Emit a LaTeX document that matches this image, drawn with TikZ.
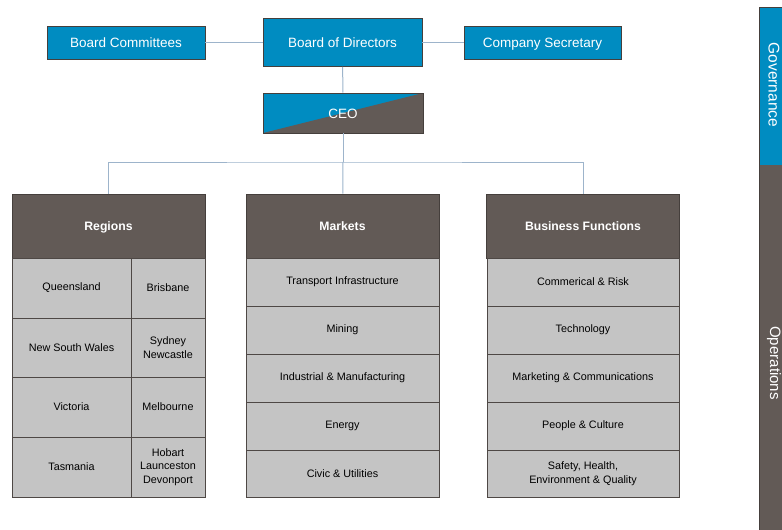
\documentclass[tikz,border=0pt]{standalone}
\usepackage{fontspec}
\setmainfont{Liberation Sans}
\usepackage{tikz}
\definecolor{govblue}{HTML}{008CC1}
\definecolor{opsgray}{HTML}{625A56}
\definecolor{cellgray}{HTML}{C4C4C4}
\definecolor{linkblue}{HTML}{9DB4CB}
\tikzstyle{topbox}=[draw=opsgray!70!black, line width=0.6pt, fill=govblue, text=white, font=\fontsize{13.5}{16}\selectfont, inner sep=0pt, text height=12pt, text depth=1.4pt]
\tikzstyle{head}=[draw=opsgray!70!black, line width=0.6pt, fill=opsgray, text=white, font=\fontsize{12.2}{14}\selectfont\bfseries, minimum width=193, minimum height=64, inner sep=0pt, text height=10.4pt, text depth=1.6pt]
\tikzstyle{cell}=[draw=opsgray!80!black, line width=0.6pt, fill=cellgray, text=black, font=\fontsize{10.8}{13.5}\selectfont, align=center, inner sep=0pt]
\tikzstyle{link}=[draw=linkblue, line width=1pt]

\begin{document}
\begin{tikzpicture}[x=1pt, y=-1pt]
		\useasboundingbox (0,0) rectangle (782,530);

		% governance
		\node [style=topbox, minimum width=158, minimum height=33] (bc) at (126, 42.5) {Board Committees};
		\node [style=topbox, minimum width=159, minimum height=48] (bod) at (342.5, 42.5) {Board of Directors};
		\node [style=topbox, minimum width=157, minimum height=33] (cs) at (542.5, 42.5) {Company Secretary};
		\node [style=topbox, minimum width=160, minimum height=40,
			path picture={\fill[opsgray] (path picture bounding box.south west) -- (path picture bounding box.north east) |- cycle;}] (ceo) at (343, 113) {CEO};

		% operations headers
		\node [style=head] (regions) at (108.5, 226) {Regions};
		\node [style=head] (markets) at (342.5, 226) {Markets};
		\node [style=head] (bizfn) at (583, 226) {Business Functions};

		% regions
		\node [style=cell, minimum width=119, minimum height=60] (qld) at (71.5, 288) {Queensland};
		\node [style=cell, minimum width=74, minimum height=60] (bne) at (168, 288) {Brisbane};
		\node [style=cell, minimum width=119, minimum height=59] (nsw) at (71.5, 347.5) {New South Wales};
		\node [style=cell, minimum width=74, minimum height=59] (syd) at (168, 347.5) {Sydney\\Newcastle};
		\node [style=cell, minimum width=119, minimum height=60] (vic) at (71.5, 407) {Victoria};
		\node [style=cell, minimum width=74, minimum height=60] (mel) at (168, 407) {Melbourne};
		\node [style=cell, minimum width=119, minimum height=60] (tas) at (71.5, 467) {Tasmania};
		\node [style=cell, minimum width=74, minimum height=60] (hba) at (168, 467) {Hobart\\Launceston\\Devonport};

		% markets
		\node [style=cell, minimum width=193, minimum height=48] (m1) at (342.5, 282) {Transport Infrastructure};
		\node [style=cell, minimum width=193, minimum height=48] (m2) at (342.5, 330) {Mining};
		\node [style=cell, minimum width=193, minimum height=48] (m3) at (342.5, 378) {Industrial \& Manufacturing};
		\node [style=cell, minimum width=193, minimum height=48] (m4) at (342.5, 426) {Energy};
		\node [style=cell, minimum width=193, minimum height=47] (m5) at (342.5, 473.5) {Civic \& Utilities};

		% business functions
		\node [style=cell, minimum width=192, minimum height=48] (b1) at (583, 282) {Commerical \& Risk};
		\node [style=cell, minimum width=192, minimum height=48] (b2) at (583, 330) {Technology};
		\node [style=cell, minimum width=192, minimum height=48] (b3) at (583, 378) {Marketing \& Communications};
		\node [style=cell, minimum width=192, minimum height=48] (b4) at (583, 426) {People \& Culture};
		\node [style=cell, minimum width=192, minimum height=47] (b5) at (583, 473.5) {Safety, Health,\\Environment \& Quality};

		% side bar
		\fill [govblue] (759, 7) rectangle (782, 165);
		\fill [opsgray] (759, 165) rectangle (782, 530);
		\draw [opsgray!70!black, line width=0.6pt] (782, 7) -- (759, 7) -- (759, 530);
		\node [rotate=-90, text=white, font=\fontsize{15.5}{18}\selectfont] (gov) at (774, 85) {Governance};
		\node [rotate=-90, text=white, font=\fontsize{15}{18}\selectfont] (ops) at (774, 363) {Operations};

		% connectors
		\coordinate (fork) at (343, 162);
		\draw [style=link] (bc) to (bod);
		\draw [style=link] (bod) to (cs);
		\draw [style=link] (bod) to (ceo);
		\draw [style=link] (ceo) to (fork);
		\draw [style=link] (fork) to (markets);
		\draw [style=link] (regions.north) |- (fork) -| (bizfn.north);

\end{tikzpicture}
\end{document}
